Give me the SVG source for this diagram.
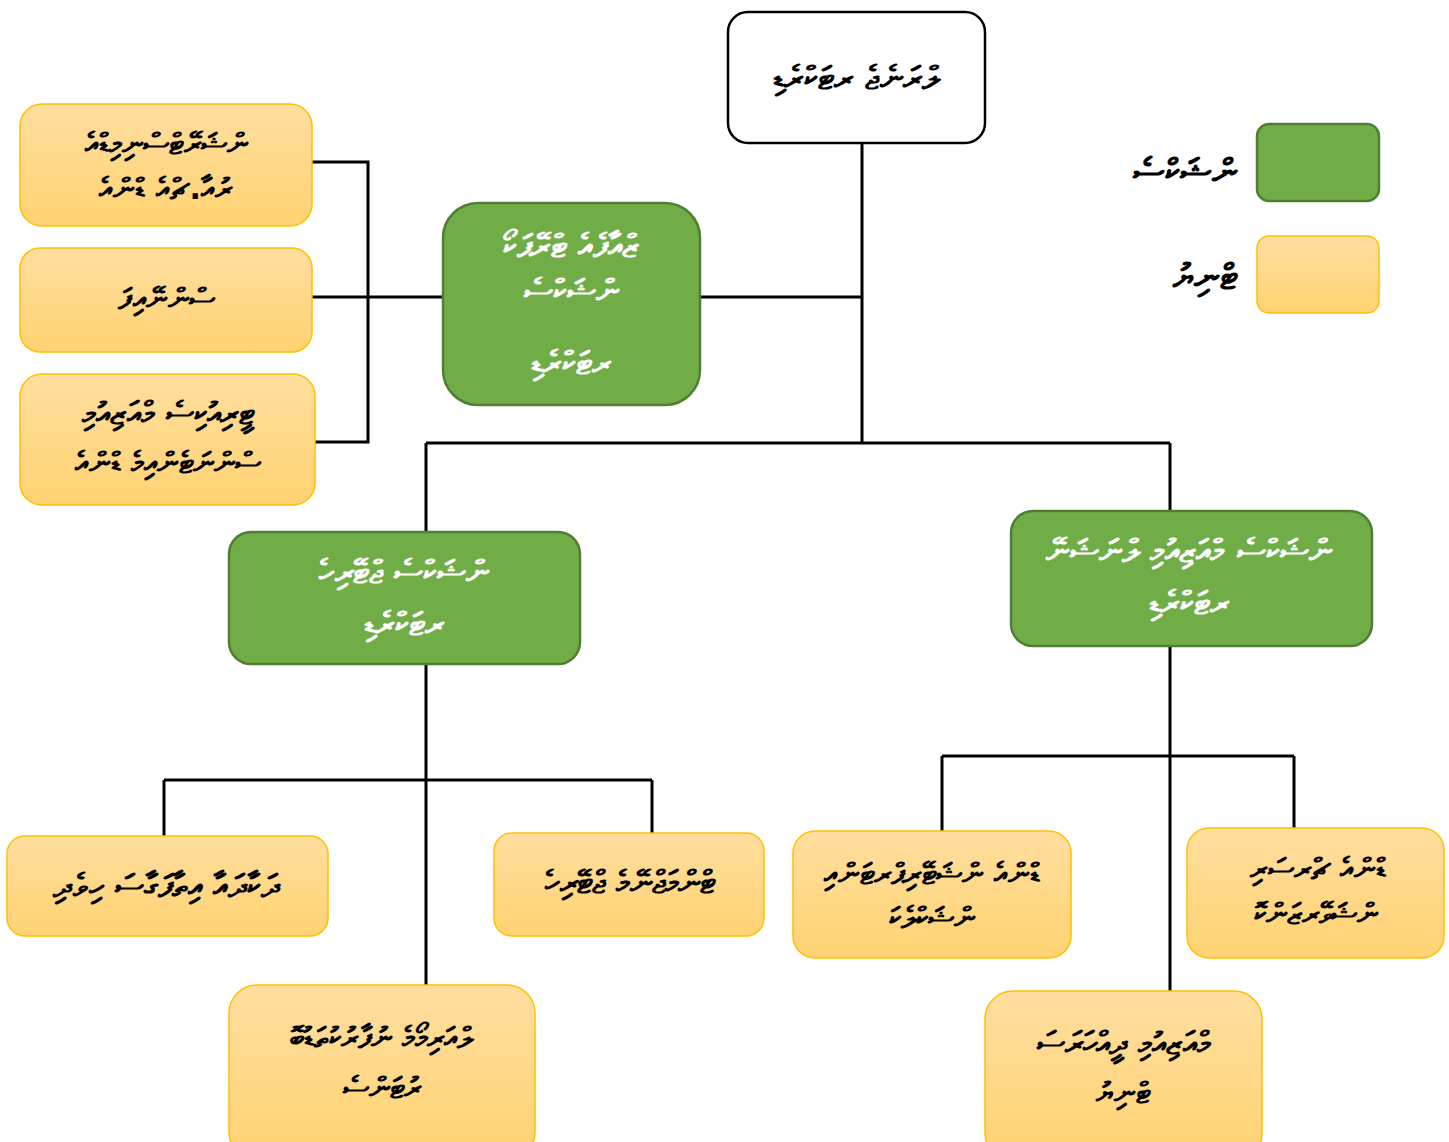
<svg xmlns="http://www.w3.org/2000/svg" width="1449" height="1142" viewBox="0 0 1449 1142">
<defs>
<linearGradient id="yg" x1="0" y1="0" x2="0" y2="1">
<stop offset="0" stop-color="#FFDE9F"/>
<stop offset="1" stop-color="#FFD372"/>
</linearGradient>
<style>
.y{fill:url(#yg);stroke:#FFC000;stroke-width:1.5}
.g{fill:#70AD47;stroke:#507E32;stroke-width:2.5}
.w{fill:#fff;stroke:#000;stroke-width:2.5}
.c{fill:none;stroke:#000;stroke-width:3}
.t{font-family:'DejaVu Sans','Noto Sans',sans-serif;font-size:30px;font-weight:bold;text-anchor:middle;direction:ltr;unicode-bidi:bidi-override;fill:#000}
.tb{font-size:33px}
.tw{fill:#fff}
.tl{font-size:36px;text-anchor:end}
</style>
</defs>
<rect width="1449" height="1142" fill="#fff"/>
<g id="connectors">
<path class="c" d="M862 143V443M426 443H1170M426 443V532M1170 443V511M700 297H862"/>
<path class="c" d="M312 162H368V442H315M312 297H443"/>
<path class="c" d="M426 664V985M164 780H652M164 780V836M652 780V833"/>
<path class="c" d="M1170 646V991M942 756H1294M942 756V831M1294 756V828"/>
</g>
<g id="dg">
<rect class="w" x="728" y="12" width="257" height="131" rx="20"/>
<text class="t tb" x="856" y="89">ޑިރެކްޓަރ ޖެނެރަލް</text>
</g>
<g id="corp">
<rect class="g" x="443" y="203" width="257" height="202" rx="35"/>
<text class="t tb tw" x="571" y="257">ކޯޕަރޭޓް އެފެއާޒް</text>
<text class="t tb tw" x="571" y="302">ސެކްޝަން</text>
<text class="t tb tw" x="571" y="374">ޑިރެކްޓަރ</text>
</g>
<g id="admin">
<rect class="y" x="20" y="104" width="292" height="122" rx="22"/>
<text class="t" x="166" y="154">އެޑްމިނިސްޓްރޭޝަން</text>
<text class="t" x="166" y="199">އެންޑް އެޗް.އާރު</text>
</g>
<g id="finance">
<rect class="y" x="20" y="248" width="292" height="104" rx="20"/>
<text class="t" x="166" y="309">ފައިނޭންސް</text>
</g>
<g id="security">
<rect class="y" x="20" y="374" width="295" height="131" rx="22"/>
<text class="t" x="168" y="424" style="font-size:32px">މިއުޒިއަމް ސެކިއުރިޓީ</text>
<text class="t" x="168" y="473">އެންޑް މެއިންޓެނަންސް</text>
</g>
<g id="legend-section">
<rect class="g" x="1257" y="124" width="122" height="77" rx="12"/>
<text class="t tl" x="1237" y="184">ސެކްޝަން</text>
</g>
<g id="legend-unit">
<rect class="y" x="1257" y="236" width="122" height="77" rx="12"/>
<text class="t tl" x="1237" y="289">ޔުނިޓް</text>
</g>
<g id="heritage">
<rect class="g" x="229" y="532" width="351" height="132" rx="22"/>
<text class="t tb tw" x="404" y="583">ހެރިޓޭޖް ސެކްޝަން</text>
<text class="t tb tw" x="404" y="635">ޑިރެކްޓަރ</text>
</g>
<g id="museum">
<rect class="g" x="1011" y="511" width="361" height="135" rx="22"/>
<text class="t tb tw" x="1189" y="562">ނޭޝަނަލް މިއުޒިއަމް ސެކްޝަން</text>
<text class="t tb tw" x="1189" y="614">ޑިރެކްޓަރ</text>
</g>
<g id="culture">
<rect class="y" x="7" y="836" width="321" height="100" rx="18"/>
<text class="t" x="166" y="897" style="font-size:33px">ދިވެހި ސަގާފަތާއި އާދަކާދަ</text>
</g>
<g id="hmanagement">
<rect class="y" x="494" y="833" width="270" height="103" rx="18"/>
<text class="t" x="630" y="893" style="font-size:32px">ހެރިޓޭޖް މެނޭޖްމަންޓް</text>
</g>
<g id="centre">
<rect class="y" x="229" y="985" width="306" height="175" rx="28"/>
<text class="t" x="382" y="1048">ބޮޑުތަކުރުފާނު މެމޯރިއަލް</text>
<text class="t" x="382" y="1098">ސެންޓަރު</text>
</g>
<g id="interpretation">
<rect class="y" x="793" y="831" width="278" height="127" rx="22"/>
<text class="t" x="932" y="884">އިންޓަރޕްރިޓޭޝަން އެންޑް</text>
<text class="t" x="932" y="928">ކަލެކްޝަން</text>
</g>
<g id="research">
<rect class="y" x="1187" y="828" width="257" height="130" rx="22"/>
<text class="t" x="1318" y="879">ރިސަރޗް އެންޑް</text>
<text class="t" x="1316" y="924">ކޮންޒަރވޭޝަން</text>
</g>
<g id="regional">
<rect class="y" x="985" y="991" width="277" height="170" rx="28"/>
<text class="t" x="1124" y="1054" style="font-size:32px">ސަރަހައްދީ މިއުޒިއަމް</text>
<text class="t" x="1123" y="1103">ޔުނިޓް</text>
</g>
</svg>
